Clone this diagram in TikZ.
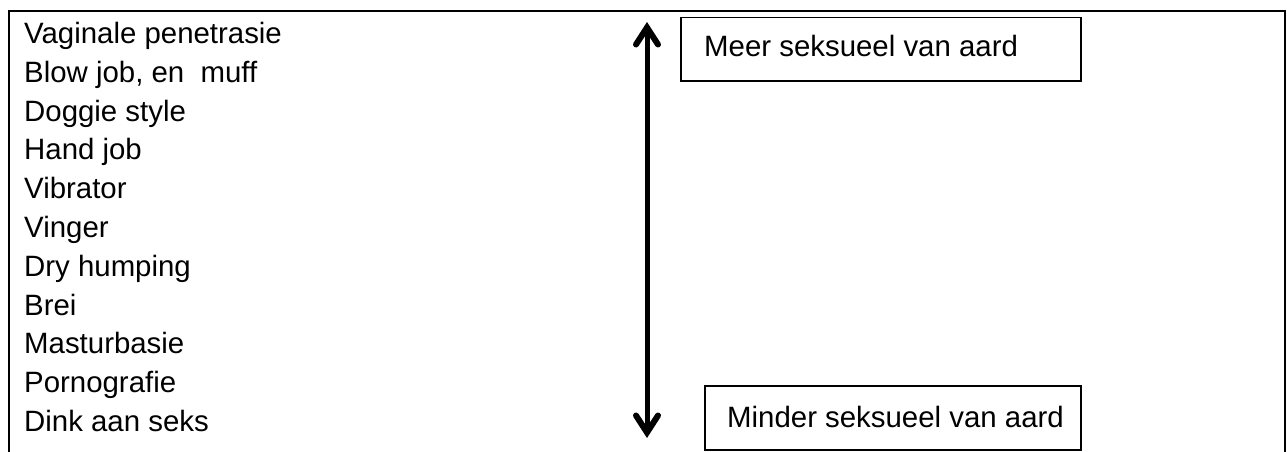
\documentclass[tikz,border=0pt]{standalone}
\usepackage{fontspec}
\setmainfont{Liberation Sans}
\begin{document}
\begin{tikzpicture}[x=1pt,y=-1pt,
  item/.style={anchor=base west,inner sep=0pt,font=\fontsize{29.4}{35}\selectfont},
  labelbox/.style={draw,line width=1.5pt,anchor=north west,inner sep=0pt},
  frame/.style={line width=2pt},
  axis/.style={line width=5pt},
  headline/.style={line width=6pt,line join=miter,line cap=round}]
\useasboundingbox (0,0) rectangle (1287,452);
\draw[frame] (8.5,452) -- (8.5,11) -- (1285,11) -- (1285,452);
\foreach \t [count=\i from 0] in {Vaginale penetrasie,{Blow job, en\ \ muff},Doggie style,Hand job,Vibrator,Vinger,Dry humping,Brei,Masturbasie,Pornografie,Dink aan seks}
  \node[item] (it\i) at (24,43.5+38.8*\i) {\t};
\node[labelbox,minimum width=400pt,minimum height=63pt] (meer) at (680,17) {};
\node[item] (meert) at (704,56.5) {Meer seksueel van aard};
\node[labelbox,minimum width=376pt,minimum height=64pt] (minder) at (704,385) {};
\node[item] (mindert) at (727,427.5) {Minder seksueel van aard};
\coordinate (top) at (647,27.5);
\coordinate (bot) at (647,432.5);
\draw[axis] (bot) -- (top);
\draw[headline] (top) ++(-11,17) -- (top) -- ++(11,17);
\draw[headline] (bot) ++(-11,-17) -- (bot) -- ++(11,-17);
\end{tikzpicture}
\end{document}
